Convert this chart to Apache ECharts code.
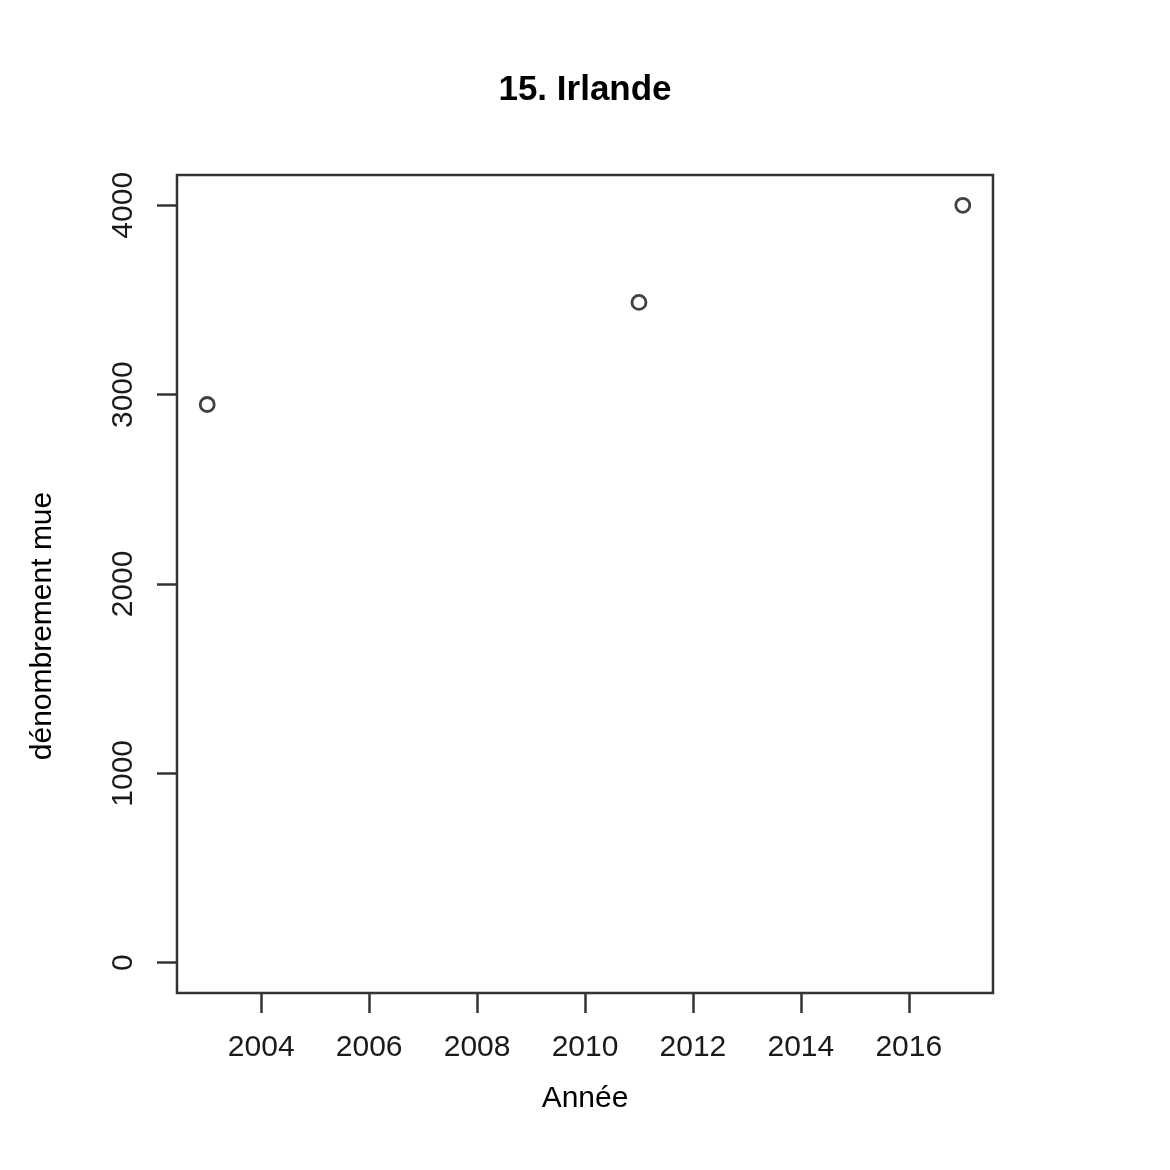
<!DOCTYPE html>
<html>
<head>
<meta charset="utf-8">
<script src="https://cdn.jsdelivr.net/npm/echarts@6/dist/echarts.min.js"></script>
<style>
  html, body { margin: 0; padding: 0; background: #fff; }
  #chart { width: 1170px; height: 1170px; }
</style>
</head>
<body>
<div id="chart"></div>
<script>
// données
const annees = [2003, 2011, 2017];
const denombrement = [2948, 3487, 4000];
const xTicks = [2004, 2006, 2008, 2010, 2012, 2014, 2016];
const yTicks = [0, 1000, 2000, 3000, 4000];

const font = "Liberation Sans, Arial, sans-serif";
const ink = "#1a1a1a";

let myChart = echarts.init(document.getElementById("chart"));

let option = {
  backgroundColor: "#fff",
  animation: false,
  title: {
    text: "15. Irlande",
    left: "center",
    top: 68,
    textStyle: { fontFamily: font, fontSize: 35, fontWeight: "bold", color: "#000" },
  },
  // titre de l'axe y (décalé comme dans l'original)
  graphic: [
    {
      type: "text",
      x: 43,
      y: 626,
      rotation: Math.PI / 2,
      style: {
        text: "dénombrement mue",
        font: "30px " + font,
        fill: "#000",
        align: "center",
        verticalAlign: "middle",
      },
    },
  ],
  grid: {
    left: 177,
    top: 175,
    width: 816,
    height: 818,
    show: true,
    borderColor: "#333",
    borderWidth: 2.5,
    backgroundColor: "transparent",
  },
  xAxis: {
    type: "value",
    min: 2002.44,
    max: 2017.56,
    name: "Année",
    nameLocation: "middle",
    nameGap: 91,
    nameTextStyle: { fontFamily: font, fontSize: 30, color: "#000" },
    axisLine: { show: false, onZero: false },
    splitLine: { show: false },
    axisTick: {
      show: true,
      length: 20,
      customValues: xTicks,
      lineStyle: { color: "#333", width: 2.5 },
    },
    axisLabel: {
      customValues: xTicks,
      margin: 40,
      fontFamily: font,
      fontSize: 30,
      color: ink,
      formatter: (v) => String(v),
    },
  },
  yAxis: {
    type: "value",
    min: -160,
    max: 4160,
    axisLine: { show: false, onZero: false },
    splitLine: { show: false },
    axisTick: {
      show: true,
      length: 20,
      customValues: yTicks,
      lineStyle: { color: "#333", width: 2.5 },
    },
    axisLabel: {
      customValues: yTicks,
      rotate: 90,
      margin: 38,
      fontFamily: font,
      fontSize: 30,
      color: ink,
      formatter: (v) => String(v),
    },
  },
  series: [
    {
      type: "scatter",
      data: annees.map((a, i) => [a, denombrement[i]]),
      symbol: "circle",
      symbolSize: 14,
      itemStyle: { color: "rgba(0,0,0,0)", borderColor: "#111", borderWidth: 2.8 },
    },
  ],
};

myChart.setOption(option, true);
</script>
</body>
</html>
